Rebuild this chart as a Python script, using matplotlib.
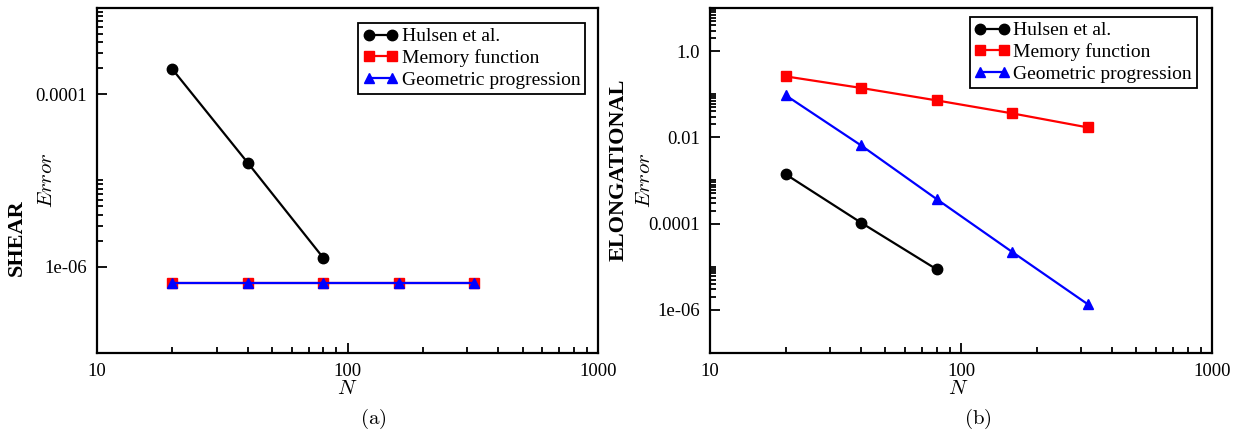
import matplotlib
matplotlib.use("Agg")
import matplotlib.pyplot as plt
import numpy as np

plt.rcParams['font.family'] = ['Liberation Serif', 'DejaVu Serif']
plt.rcParams['mathtext.fontset'] = 'cm'

# data
N = [20, 40, 80, 160, 320]
N_hulsen = [20, 40, 80]

shear_hulsen = [1.95e-4, 1.6e-5, 1.27e-6]
shear_memory = [6.5e-7, 6.5e-7, 6.5e-7, 6.5e-7, 6.5e-7]
shear_geom = [6.5e-7, 6.5e-7, 6.5e-7, 6.5e-7, 6.5e-7]

elong_hulsen = [1.4e-3, 1.05e-4, 8.7e-6]
elong_memory = [0.26, 0.14, 0.072, 0.036, 0.017]
elong_geom = [0.095, 6.5e-3, 3.7e-4, 2.2e-5, 1.35e-6]

x_ticks = [10, 100, 1000]
x_labels = ['10', '100', '1000']
shear_yticks = [1e-6, 1e-4]
shear_ylabels = ['1e-06', '0.0001']
elong_yticks = [1e-6, 1e-4, 1e-2, 1.0]
elong_ylabels = ['1e-06', '0.0001', '0.01', '1.0']


def minors(majors, lo, hi):
    # xmgrace style: minor ticks at 2..10 times each major
    out = []
    for m in majors:
        for k in range(2, 11):
            v = k * m
            if lo < v < hi:
                out.append(v)
    return out


fig = plt.figure(figsize=(12.4, 4.34), dpi=100)
ax1 = fig.add_axes([97/1240, 1-353/434, 501/1240, 345/434])
ax2 = fig.add_axes([710/1240, 1-353/434, 502/1240, 345/434])

panels = [
    (ax1, shear_hulsen, shear_memory, shear_geom, (1e-7, 1e-3), shear_yticks, shear_ylabels, (0.975, 0.9565)),
    (ax2, elong_hulsen, elong_memory, elong_geom, (1e-7, 10), elong_yticks, elong_ylabels, (0.970, 0.974)),
]

for ax, hul, mem, geo, ylim, yt, yl, anchor in panels:
    ax.plot(N_hulsen, hul, color='black', lw=1.6, marker='o', ms=7.5, label='Hulsen et al.')
    ax.plot(N, mem, color='red', lw=1.6, marker='s', ms=7, label='Memory function')
    ax.plot(N, geo, color='blue', lw=1.6, marker='^', ms=7.5, label='Geometric progression')
    ax.set_xscale('log')
    ax.set_yscale('log')
    ax.set_xlim(10, 1000)
    ax.set_ylim(*ylim)
    ax.set_xticks(x_ticks, x_labels)
    ax.set_xticks(minors([10, 100], 10, 1000), minor=True)
    ax.set_yticks(yt, yl)
    ax.set_yticks(minors(yt, ylim[0], ylim[1]), minor=True)
    ax.xaxis.set_minor_formatter(plt.NullFormatter())
    ax.yaxis.set_minor_formatter(plt.NullFormatter())
    ax.tick_params(which='both', direction='in', top=False, right=False, width=1.3, labelsize=13.5)
    ax.tick_params(which='major', length=7, pad=7)
    ax.tick_params(which='minor', length=4)
    for s in ax.spines.values():
        s.set_linewidth(1.6)
    leg = ax.legend(loc='upper right', bbox_to_anchor=anchor, borderaxespad=0, fontsize=14,
                    numpoints=2, handlelength=1.8, handletextpad=0.2, labelspacing=0.2,
                    borderpad=0.25, fancybox=False, framealpha=1, edgecolor='black')
    leg.get_frame().set_linewidth(1.3)

fig.text(347/1240, 1-389/434, r'$N$', fontsize=15, ha='center', va='center')
fig.text(958/1240, 1-389/434, r'$N$', fontsize=15, ha='center', va='center')
fig.text(373/1240, 1-419/434, r'$\mathrm{(a)}$', fontsize=15, ha='center', va='center')
fig.text(978/1240, 1-419/434, r'$\mathrm{(b)}$', fontsize=15, ha='center', va='center')

fig.text(48/1240, 1-180/434, r'$Error$', fontsize=15, rotation=90, ha='center', va='center')
fig.text(646/1240, 1-180/434, r'$Error$', fontsize=15, rotation=90, ha='center', va='center')
fig.text(17/1240, 1-238/434, 'SHEAR', fontsize=16, fontweight='bold', rotation=90, ha='center', va='center')
fig.text(619/1240, 1-170/434, 'ELONGATIONAL', fontsize=16, fontweight='bold', rotation=90, ha='center', va='center')

fig.savefig('out.png', dpi=100)
